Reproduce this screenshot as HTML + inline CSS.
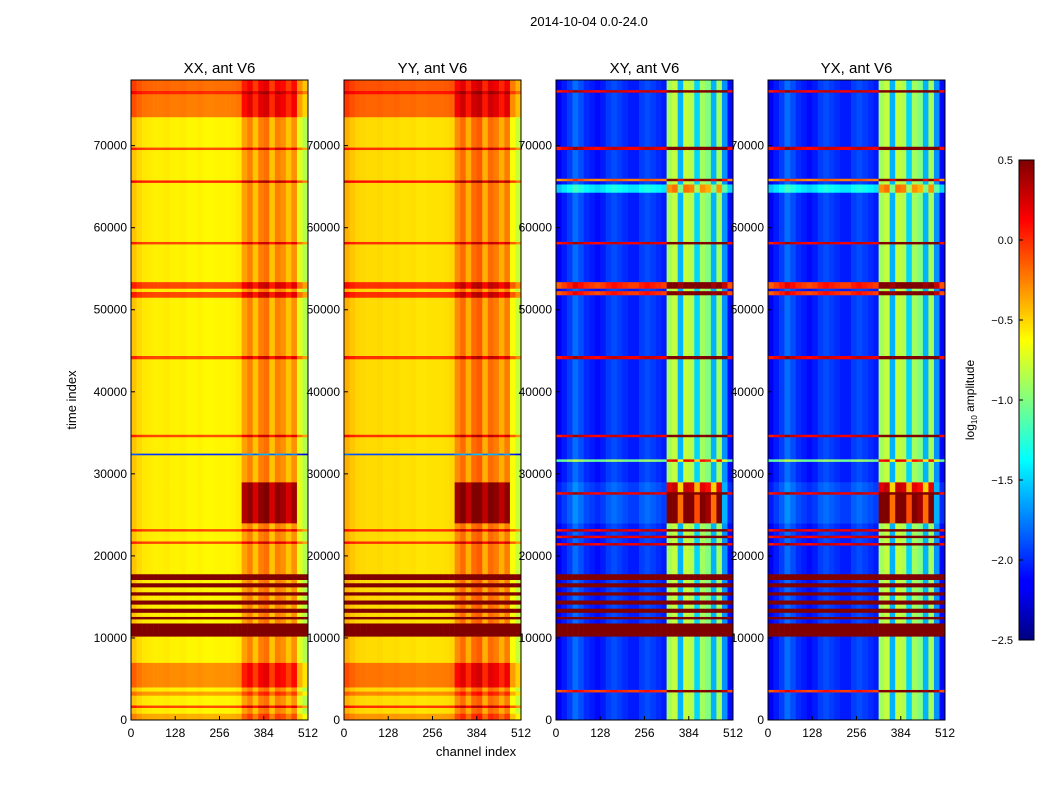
<!DOCTYPE html>
<html><head><meta charset="utf-8"><style>
body{margin:0;background:#fff;font-family:"Liberation Sans",sans-serif}
</style></head><body>
<svg id="fig" width="1050" height="800" xmlns="http://www.w3.org/2000/svg" font-family="Liberation Sans, sans-serif">
<rect width="1050" height="800" fill="#fff"/>
<text x="589" y="26" font-size="13" text-anchor="middle">2014-10-04 0.0-24.0</text>
<g id="panels"></g>
<text transform="translate(76,400) rotate(-90)" font-size="13" text-anchor="middle">time index</text>
<text x="476" y="756" font-size="13" text-anchor="middle">channel index</text>
<defs><linearGradient id="jet" x1="0" y1="1" x2="0" y2="0">
<stop offset="0" stop-color="#00007f"/><stop offset="0.11" stop-color="#0000ff"/><stop offset="0.125" stop-color="#0000ff"/><stop offset="0.375" stop-color="#00ffff"/><stop offset="0.5" stop-color="#80ff80"/><stop offset="0.625" stop-color="#ffff00"/><stop offset="0.875" stop-color="#ff0000"/><stop offset="1" stop-color="#7f0000"/></linearGradient></defs>
<rect x="1019" y="160" width="15" height="480" fill="url(#jet)" stroke="#000" stroke-width="1"/>
<g id="cbticks"></g>
<text transform="translate(974,400) rotate(-90)" font-size="12" text-anchor="middle">log<tspan font-size="8" dy="3">10</tspan><tspan dy="-3"> amplitude</tspan></text>
</svg>
<script>
// column profiles (16-channel bins, log10 amplitude)
const colsAuto=[-0.45,-0.52,-0.56,-0.57,-0.58,-0.58,-0.57,-0.59,-0.59,-0.58,-0.6,-0.6,-0.59,-0.61,-0.61,-0.6,-0.6,-0.6,-0.59,-0.57,-0.35,-0.25,-0.45,-0.25,-0.2,-0.45,-0.25,-0.3,-0.45,-0.3,-0.7,-0.85];
const colsCross=[-2.15,-2.05,-1.95,-1.8,-1.9,-2.0,-2.05,-2.1,-2.05,-1.95,-1.9,-1.95,-2.0,-2.05,-2.05,-1.95,-1.9,-1.95,-2.0,-2.05,-0.9,-0.8,-1.6,-0.8,-0.85,-1.5,-0.9,-1.0,-1.6,-0.9,-1.7,-2.1];
// row events: [tStart, tEnd, offsetAll, boostBright]
const rowsAuto=[[0,800,0.2,0],[1500,1800,0.5,0],[3000,3500,0.25,0],[4000,7000,0.3,0.1],[10200,11800,1.5,0],[12300,12600,1.5,0],[13100,13600,1.5,0],[14100,14600,1.5,0],[15200,15600,1.5,0],[16200,16700,1.5,0],[17100,17800,1.5,0],[21500,21800,0.5,0],[23000,23300,0.5,0],[24000,29000,0,0.7],[32300,32500,-1.4,0],[34500,34800,0.5,0],[44000,44400,0.5,0],[51500,52200,0.5,0],[52600,53400,0.5,0],[58000,58300,0.5,0],[65500,65800,0.6,0],[69500,69800,0.5,0],[73500,76300,0.35,0.1],[76300,76700,0.6,0],[76700,78000,0.4,0]];
const rowsCross=[[3400,3700,2.0,0],[10200,11800,2.8,0],[12300,12600,2.8,0],[13100,13600,2.8,0],[14100,14600,2.8,0],[15200,15600,2.8,0],[16200,16700,2.8,0],[17100,17800,2.8,0],[21300,21600,2.2,0],[22200,22500,2.2,0],[23000,23300,2.2,0],[24000,27500,0.1,1.3],[27500,27800,2.2,0],[27800,29000,0.1,1.0],[31500,31800,1.0,0],[34500,34800,2.2,0],[44000,44400,2.2,0],[51800,52300,2.0,0],[52600,53400,2.0,0],[58000,58300,2.2,0],[64300,65300,0.6,0],[65700,66000,1.8,0],[69500,69900,2.2,0],[76500,76800,2.2,0]];
const panelNames=["XX, ant V6","YY, ant V6","XY, ant V6","YX, ant V6"];
const panelX=[131,344,556,768];
const xTicks=[0,128,256,384,512];
const yTicks=[0,10000,20000,30000,40000,50000,60000,70000];
const cbTicks=[0.5,0.0,-0.5,-1.0,-1.5,-2.0,-2.5];
const W=177,TOP=80,BOT=720,TMAX=78000,VMIN=-2.5,VMAX=0.5;
const NS="http://www.w3.org/2000/svg";
function yS(t){return BOT-(t/TMAX)*(BOT-TOP);}
function xS(c,x0){return x0+c/512*W;}
function jet(v){let t=(v-VMIN)/(VMAX-VMIN);t=Math.max(0,Math.min(1,t));
 const f=a=>Math.round(255*Math.max(0,Math.min(1,1.5-Math.abs(4*t-a))));
 return `rgb(${f(3)},${f(2)},${f(1)})`;}
function mk(tag,attrs,parent){const e=document.createElementNS(NS,tag);for(const k in attrs)e.setAttribute(k,attrs[k]);parent.appendChild(e);return e;}
const G=document.getElementById('panels');
function segments(rows){const s=[];let t=0;for(const r of rows){if(r[0]>t)s.push([t,r[0],0,0]);s.push(r);t=r[1];}if(t<TMAX)s.push([t,TMAX,0,0]);return s;}
panelNames.forEach((name,p)=>{
 const x0=panelX[p];const cross=p>=2;const cols=cross?colsCross:colsAuto;const rows=cross?rowsCross:rowsAuto;
 const g=mk('g',{},G);
 
 
 const segs=segments(rows);
 segs.forEach(s=>{
  const y1=yS(s[1]),y2=yS(s[0]);
  cols.forEach((cv,i)=>{
   const bright=(i>=20&&i<30)?1:0;
   const v=cv+s[2]+bright*s[3]+((p===1)?0.06:0);
   const r=mk('rect',{x:xS(i*16,x0).toFixed(2),y:y1.toFixed(2),width:(W/32+0.3).toFixed(2),height:(y2-y1+0.3).toFixed(2),fill:jet(v)},g);
   
   
  });
 });
 mk('rect',{x:x0,y:TOP,width:W,height:BOT-TOP,fill:'none',stroke:'#000','stroke-width':1},g);
 const tt=mk('text',{x:x0+W/2,y:73,'font-size':15,'text-anchor':'middle'},G);tt.textContent=name;
 
 
 xTicks.forEach(v=>{const x=xS(v,x0);mk('line',{x1:x,x2:x,y1:BOT,y2:BOT-4,stroke:'#000'},G);
  const t=mk('text',{x:x,y:BOT+17,'font-size':12,'text-anchor':'middle'},G);t.textContent=v;
  
  });
 yTicks.forEach(v=>{const y=yS(v);mk('line',{x1:x0,x2:x0+4,y1:y,y2:y,stroke:'#000'},G);
  const t=mk('text',{x:x0-4,y:y+4,'font-size':12,'text-anchor':'end'},G);t.textContent=v;
  
  });
});
const CB=document.getElementById('cbticks');
cbTicks.forEach(v=>{const y=160+(VMAX-v)/(VMAX-VMIN)*480;
 mk('line',{x1:1019,x2:1023,y1:y,y2:y,stroke:'#000'},CB);
 const t=mk('text',{x:1013,y:y+4,'font-size':11,'text-anchor':'end'},CB);t.textContent=(v<0?'\u2212'+Math.abs(v).toFixed(1):v.toFixed(1));
 
 });
</script>
</body></html>
